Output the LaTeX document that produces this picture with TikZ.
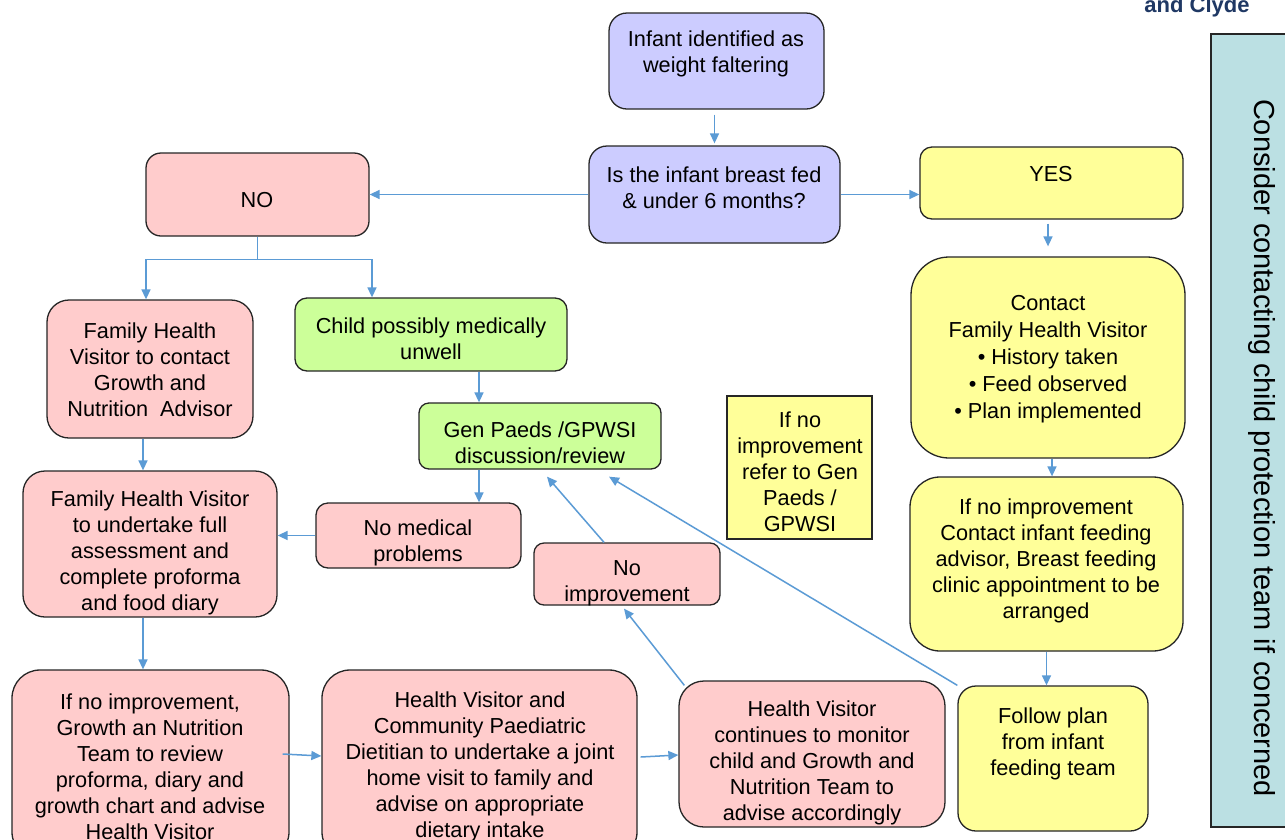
\documentclass[tikz,border=0pt]{standalone}
\usepackage{fontspec}
\setmainfont{Liberation Sans}
\usetikzlibrary{arrows.meta}
\definecolor{pinkf}{HTML}{FFCCCC}
\definecolor{purplef}{HTML}{CCCCFF}
\definecolor{greenf}{HTML}{CCFF99}
\definecolor{yellowf}{HTML}{FFFF99}
\definecolor{tealf}{HTML}{BBE0E3}
\definecolor{boxline}{HTML}{262626}
\definecolor{arrowc}{HTML}{5B9BD5}
\definecolor{navy}{HTML}{1F3864}
\begin{document}
\begin{tikzpicture}[x=1pt,y=-1pt,
  box/.style={draw=boxline, line width=1.3pt, inner sep=0pt},
  txt/.style={font=\fontsize{21.7}{26}\selectfont, align=center, inner sep=0pt, text=black, yshift=-3pt},
  conn/.style={draw=arrowc, line width=1.5pt},
  arr/.style={conn, -{Triangle[length=10pt,width=9pt]}}]
\useasboundingbox (0,0) rectangle (1285,839);
\clip (0,0) rectangle (1285,839);
\fill[white] (0,0) rectangle (1285,839);

% boxes
\node[box, fill=purplef, rounded corners=18pt, minimum width=215pt, minimum height=96pt] (top) at (716.5,61) {};
\node[box, fill=purplef, rounded corners=18pt, minimum width=251pt, minimum height=97pt] (isq) at (714.5,194.5) {};
\node[box, fill=pinkf, rounded corners=15pt, minimum width=223pt, minimum height=83pt] (no) at (257.5,194.5) {};
\node[box, fill=yellowf, rounded corners=12pt, minimum width=263pt, minimum height=72pt] (yes) at (1051.5,183) {};
\node[box, fill=pinkf, rounded corners=22pt, minimum width=206pt, minimum height=138pt] (fhvc) at (150,369) {};
\node[box, fill=greenf, rounded corners=12pt, minimum width=272pt, minimum height=73pt] (child) at (431,334.5) {};
\node[box, fill=greenf, rounded corners=10pt, minimum width=242pt, minimum height=66pt] (genp) at (540,436) {};
\node[box, fill=yellowf, minimum width=145pt, minimum height=143pt] (refer) at (799.5,467.5) {};
\node[box, fill=yellowf, rounded corners=38pt, minimum width=274pt, minimum height=201pt] (contact) at (1048,357.5) {};
\node[box, fill=yellowf, rounded corners=30pt, minimum width=273pt, minimum height=174pt] (ifnoc) at (1046.5,564) {};
\node[box, fill=yellowf, rounded corners=18pt, minimum width=190pt, minimum height=145pt] (follow) at (1053,758.5) {};
\node[box, fill=pinkf, rounded corners=22pt, minimum width=254pt, minimum height=146pt] (fhvf) at (150,544) {};
\node[box, fill=pinkf, rounded corners=12pt, minimum width=205pt, minimum height=65pt] (nomed) at (418.5,535.5) {};
\node[box, fill=pinkf, rounded corners=10pt, minimum width=186pt, minimum height=62pt] (noimp) at (627,574) {};
\node[box, fill=pinkf, rounded corners=28pt, minimum width=277pt, minimum height=190pt] (growth) at (150.5,765) {};
\node[box, fill=pinkf, rounded corners=28pt, minimum width=315pt, minimum height=190pt] (hvcpd) at (479.5,765) {};
\node[box, fill=pinkf, rounded corners=25pt, minimum width=266pt, minimum height=146pt] (hvc) at (812,754) {};
\node[box, fill=tealf, minimum width=89pt, minimum height=793pt] (teal) at (1255.5,430.5) {};

% texts
\node[txt] (ttop) at (716,51) {Infant identified as\\weight faltering};
\node[txt] (tisq) at (714,185) {Is the infant breast fed\\\& under 6 months?};
\node[txt] (tno) at (257,197) {NO};
\node[txt] (tyes) at (1051,171) {YES};
\node[txt] (tfhvc) at (150,367) {Family Health\\Visitor to contact\\Growth and\\Nutrition\ \ Advisor};
\node[txt] (tchild) at (431,336) {Child possibly medically\\unwell};
\node[txt] (tgenp) at (540,440) {Gen Paeds /GPWSI\\discussion/review};
\node[txt] (trefer) at (800,469) {If no\\improvement\\refer to Gen\\Paeds /\\GPWSI};
\node[txt, font=\fontsize{21.7}{27}\selectfont] (tcontact) at (1048,356) {Contact\\Family Health Visitor\\• History taken\\• Feed observed\\• Plan implemented};
\node[txt] (tifnoc) at (1046,558) {If no improvement\\Contact infant feeding\\advisor, Breast feeding\\clinic appointment to be\\arranged};
\node[txt] (tfollow) at (1053,741) {Follow plan\\from infant\\feeding team};
\node[txt] (tfhvf) at (150,550) {Family Health Visitor\\to undertake full\\assessment and\\complete proforma\\and food diary};
\node[txt] (tnomed) at (418,540) {No medical\\problems};
\node[txt] (tnoimp) at (627,580) {No\\improvement};
\node[txt] (tgrowth) at (150,764) {If no improvement,\\Growth an Nutrition\\Team to review\\proforma, diary and\\growth chart and advise\\Health Visitor};
\node[txt] (thvcpd) at (480,764) {Health Visitor and\\Community Paediatric\\Dietitian to undertake a joint\\home visit to family and\\advise on appropriate\\dietary intake};
\node[txt] (thvc) at (812,760) {Health Visitor\\continues to monitor\\child and Growth and\\Nutrition Team to\\advise accordingly};
\node[txt, font=\fontsize{29}{34}\selectfont, rotate=-90, yshift=0pt] (tteal) at (1262,445) {Consider contacting child protection team if concerned};
\node[inner sep=0pt, anchor=base, text=navy, font=\fontsize{22}{26}\selectfont\bfseries] (clyde) at (1197,12) {and Clyde};

% connectors
\draw[arr, shorten <=5pt, shorten >=2pt] (isq.north |- top.south) -- (isq.north);
\draw[arr] (isq.west) -- (no.east);
\draw[arr] (isq.east) -- (isq.east -| yes.west);
\draw[arr, shorten <=4pt, shorten >=10pt] (contact.north |- yes.south) -- (contact.north);
\draw[conn] (no.south) -- ++(0,23) coordinate (nsplit);
\draw[arr] (nsplit) -| ([xshift=-4pt]fhvc.north);
\draw[arr] (nsplit) -| ([xshift=-59pt]child.north);
\draw[arr] ([xshift=-7pt]fhvc.south) coordinate (f0) -- (f0 |- fhvf.north);
\draw[arr] ([xshift=48pt]child.south) coordinate (c1) -- (c1 |- genp.north);
\draw[arr] ([xshift=-61pt]genp.south) coordinate (g1) -- (g1 |- nomed.north);
\draw[arr] (nomed.west) -- (nomed.west -| fhvf.east);
\draw[arr] ([xshift=-7pt]fhvf.south) coordinate (f1) -- (f1 |- growth.north);
\draw[arr] ([xshift=-7pt,yshift=11pt]growth.east) -- ([yshift=9pt]hvcpd.west);
\draw[arr] ([xshift=3pt,yshift=8pt]hvcpd.east) -- ([yshift=-1pt]hvc.west);
\draw[arr] ([xshift=6pt,yshift=-5pt]hvc.north west) -- ([xshift=-3pt,yshift=-3pt]noimp.south);
\draw[arr] ([xshift=-23pt]noimp.north) -- ([xshift=7pt,yshift=-7pt]genp.south);
\draw[arr] (follow.north west) -- ([xshift=69pt,yshift=-7pt]genp.south);
\draw[arr] ([xshift=4pt]contact.south) coordinate (k1) -- (k1 |- ifnoc.north);
\draw[arr] (ifnoc.south) -- (ifnoc.south |- follow.north);
\end{tikzpicture}
\end{document}
